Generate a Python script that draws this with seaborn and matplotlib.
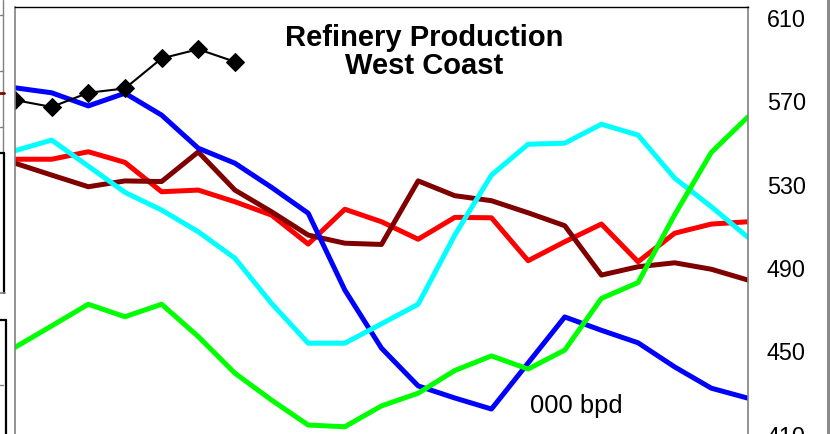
import matplotlib
matplotlib.use("Agg")
import matplotlib.pyplot as plt
from matplotlib.lines import Line2D
from matplotlib.patches import Rectangle
import numpy as np
import pandas as pd
import seaborn as sns

# values (000 bpd), 21 periods
periods = list(range(21))

red = [542.2, 542.2, 545.8, 540.7, 526.6, 527.4, 521.8, 515.4, 501.5, 518.2, 512.2,
       503.8, 514.3, 514.1, 493.5, 502.6, 511.1, 493.0, 506.7, 511.1, 512.2]
maroon = [540.3, 534.6, 529.0, 531.8, 531.5, 545.7, 527.4, 517.0, 505.8, 501.9, 501.3,
          531.8, 524.7, 522.3, 516.5, 510.3, 486.6, 490.6, 492.5, 489.4, 484.2]
blue = [576.5, 574.1, 567.8, 573.9, 563.4, 547.5, 540.3, 528.7, 516.3, 479.4, 451.5,
        433.4, 427.6, 422.3, 444.4, 466.5, 460.1, 454.1, 442.5, 432.3, 427.5]
cyan = [546.3, 551.4, 538.9, 526.3, 517.8, 507.4, 494.7, 473.0, 453.9, 453.9, 463.2,
        472.6, 505.8, 534.6, 549.4, 549.9, 559.0, 553.8, 533.1, 519.4, 504.7]
green = [451.9, 462.2, 472.6, 466.6, 472.6, 457.1, 439.5, 426.6, 414.6, 413.8, 423.8,
         429.9, 440.8, 447.8, 441.5, 450.6, 475.4, 483.0, 515.6, 545.5, 562.6]
current = [570.6, 567.3, 574.1, 576.2, 590.6, 595.0, 589.0]

yticks = [410, 450, 490, 530, 570, 610]

colors = {"red": "#FF0000", "maroon": "#800000", "blue": "#0000FF",
          "cyan": "#00FFFF", "green": "#00FF00"}

rows = []
for name, vals in [("red", red), ("maroon", maroon), ("blue", blue),
                   ("cyan", cyan), ("green", green)]:
    for p, v in zip(periods, vals):
        rows.append({"period": p, "value": v, "series": name})
df = pd.DataFrame(rows)
cur = pd.DataFrame({"period": periods[:len(current)], "value": current})

sns.set_style("white")
plt.rcParams["font.family"] = ["Liberation Sans", "DejaVu Sans"]
plt.rcParams["text.color"] = "black"
plt.rcParams["ytick.color"] = "black"

W, H = 830, 434
fig = plt.figure(figsize=(W / 100, H / 100), dpi=100)

# axes extends below the figure edge (chart is cropped at the bottom)
ybot, ytop = 390, 615.28
px_per = 2.0833
bottom_px = 18 + (610 - ybot) * px_per
ax = fig.add_axes([15 / W, (H - bottom_px) / H, 733 / W, (bottom_px - 7) / H])

sns.lineplot(data=df, x="period", y="value", hue="series",
             hue_order=["red", "maroon", "blue", "cyan", "green"],
             palette=colors, linewidth=3.6, legend=False, ax=ax)
sns.lineplot(data=cur, x="period", y="value", color="black", linewidth=1.5,
             marker="D", markersize=9, markeredgecolor="black", ax=ax)

ax.set_xlim(0, 20)
ax.set_ylim(ybot, ytop)
ax.set_xticks([])
ax.set_xlabel("")
ax.set_ylabel("")
ax.yaxis.tick_right()
ax.set_yticks(yticks)
ax.tick_params(axis="y", length=0, pad=13.5, labelsize=16.8, labelcolor="black")
for side in ["left", "right"]:
    ax.spines[side].set_color("#808080")
    ax.spines[side].set_linewidth(1.2)
ax.spines["top"].set_color("black")
ax.spines["top"].set_linewidth(1.0)

fig.text(424 / W, 1 - 45.7 / H, "Refinery Production", ha="center", va="baseline",
         fontsize=21, fontweight="bold", color="black")
fig.text(424 / W, 1 - 73.7 / H, "West Coast", ha="center", va="baseline",
         fontsize=21, fontweight="bold", color="black")
fig.text(530 / W, 1 - 413.3 / H, "000 bpd", ha="left", va="baseline", fontsize=18.4,
         color="black")

# gray frame strip on the right edge
fig.add_artist(Rectangle((826.5 / W, 0), 3.5 / W, 1, transform=fig.transFigure,
                         color="#8a8a8a", lw=0))


# fragments of the neighbouring panel on the left edge
def seg(x0, y0, x1, y1, **kw):
    fig.add_artist(Line2D([x0 / W, x1 / W], [1 - y0 / H, 1 - y1 / H],
                          transform=fig.transFigure, **kw))


seg(2.5, 0, 2.5, 153, color="#808080", lw=1.0)
for yy in [15, 71, 127, 385]:
    seg(0, yy, 3, yy, color="#808080", lw=1.0)
seg(0, 93, 4, 93, color="#800000", lw=2.0)
seg(0, 153, 3.5, 153, color="black", lw=1.6)
seg(3.5, 153, 3.5, 293, color="black", lw=1.6)
seg(0, 293, 5, 293, color="#808080", lw=1.2)
seg(0, 320, 5.5, 320, color="black", lw=1.6)
seg(5.5, 320, 5.5, 434, color="black", lw=1.6)

fig.savefig("out.png", dpi=100, facecolor="white")
